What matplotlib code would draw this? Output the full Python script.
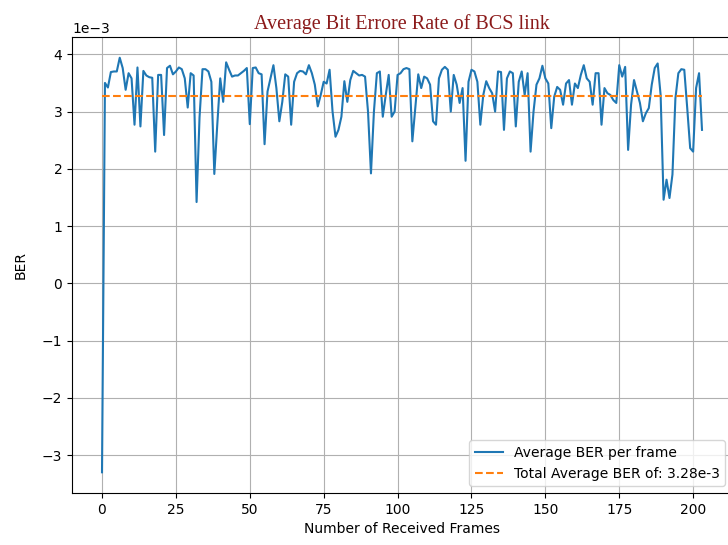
import numpy as np
import matplotlib.pyplot as plt

# BER medio por trama (en unidades de 1e-3)
ber_frame = [
    -3.30, 3.50, 3.42, 3.69, 3.70, 3.70, 3.94, 3.76, 3.38, 3.67,
    3.58, 2.77, 3.77, 2.74, 3.71, 3.63, 3.60, 3.59, 2.30, 3.64,
    3.64, 2.59, 3.76, 3.80, 3.65, 3.70, 3.77, 3.74, 3.58, 3.07,
    3.67, 3.63, 1.42, 2.90, 3.74, 3.74, 3.70, 3.52, 1.91, 2.77,
    3.58, 3.17, 3.86, 3.73, 3.61, 3.63, 3.63, 3.67, 3.71, 3.76,
    2.78, 3.76, 3.77, 3.67, 3.65, 2.43, 3.35, 3.58, 3.81, 3.41,
    2.83, 3.17, 3.65, 3.61, 2.77, 3.52, 3.67, 3.71, 3.70, 3.65,
    3.81, 3.67, 3.47, 3.09, 3.29, 3.52, 3.49, 3.73, 3.00, 2.56,
    2.68, 2.91, 3.53, 3.17, 3.55, 3.71, 3.67, 3.63, 3.64, 3.61,
    3.00, 1.92, 3.00, 3.67, 3.70, 2.91, 3.29, 3.64, 2.91, 3.00,
    3.64, 3.67, 3.74, 3.76, 3.74, 2.48, 3.06, 3.65, 3.41, 3.61,
    3.58, 3.47, 2.83, 2.77, 3.58, 3.73, 3.78, 3.73, 3.00, 3.64,
    3.47, 3.15, 3.41, 2.14, 3.52, 3.73, 3.70, 3.52, 2.77, 3.29,
    3.53, 3.41, 3.32, 3.00, 3.70, 3.69, 2.68, 3.58, 3.70, 3.67,
    2.74, 3.52, 3.70, 3.29, 3.67, 2.30, 3.00, 3.47, 3.58, 3.80,
    3.58, 3.49, 2.71, 3.26, 3.43, 3.38, 3.12, 3.49, 3.55, 3.12,
    3.49, 3.41, 3.64, 3.81, 3.58, 3.52, 3.12, 3.67, 3.67, 2.77,
    3.41, 3.32, 3.29, 3.20, 3.15, 3.81, 3.61, 3.78, 2.33, 3.12,
    3.55, 3.35, 3.15, 2.83, 2.97, 3.06, 3.47, 3.76, 3.84, 3.29,
    1.46, 1.81, 1.49, 1.90, 3.23, 3.67, 3.74, 3.73, 3.06, 2.36,
    2.30, 3.41, 3.67, 2.68,
]
ber_promedio = 3.28  # e-3

tramas = np.arange(len(ber_frame))
ber = np.array(ber_frame) * 1e-3

fig = plt.figure(figsize=(7.28, 5.45), dpi=100)
ax = fig.add_axes([0.0989, 0.0954, 0.9066, 0.8367])

ax.plot(tramas, ber, label='Average BER per frame')
ax.plot(tramas, np.full(len(tramas), ber_promedio * 1e-3), linestyle='--',
        label=f'Total Average BER of: {ber_promedio}e-3')

ax.set_title('Average Bit Errore Rate of BCS link', family='Liberation Serif',
             color='#8b1a1a', fontsize=14.5)
ax.set_xlabel('Number of Received Frames')
ax.set_ylabel('BER', labelpad=10)
ax.ticklabel_format(axis='y', style='sci', scilimits=(0, 0))
ax.grid(True)
ax.legend(loc='lower right')

fig.savefig('out.png', dpi=100)
